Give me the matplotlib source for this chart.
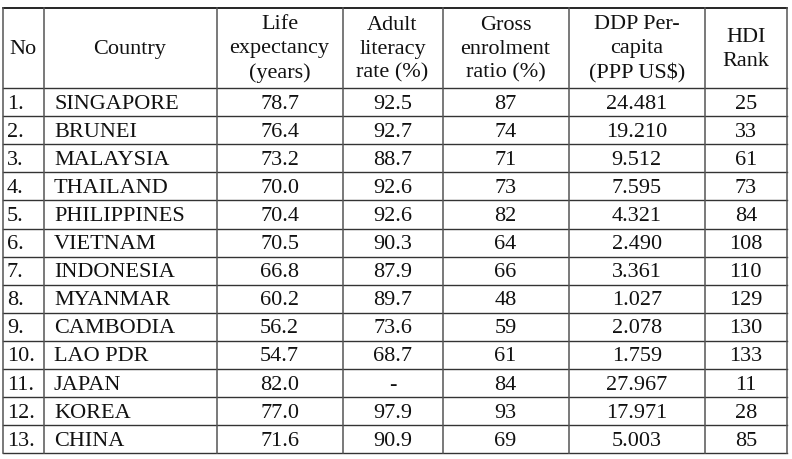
import matplotlib
matplotlib.use("Agg")
import matplotlib.pyplot as plt

headers = ["No", "Country", "Life\nexpectancy\n(years)", "Adult\nliteracy\nrate (%)",
           "Gross\nenrolment\nratio (%)", "DDP Per-\ncapita\n(PPP US$)", "HDI\nRank"]
numbers = ["1.", "2.", "3.", "4.", "5.", "6.", "7.", "8.", "9.", "10.", "11.", "12.", "13."]
countries = ["SINGAPORE", "BRUNEI", "MALAYSIA", "THAILAND", "PHILIPPINES", "VIETNAM",
             "INDONESIA", "MYANMAR", "CAMBODIA", "LAO PDR", "JAPAN", "KOREA", "CHINA"]
life_exp = ["78.7", "76.4", "73.2", "70.0", "70.4", "70.5", "66.8", "60.2", "56.2", "54.7",
            "82.0", "77.0", "71.6"]
literacy = ["92.5", "92.7", "88.7", "92.6", "92.6", "90.3", "87.9", "89.7", "73.6", "68.7",
            "-", "97.9", "90.9"]
enrolment = ["87", "74", "71", "73", "82", "64", "66", "48", "59", "61", "84", "93", "69"]
gdp = ["24.481", "19.210", "9.512", "7.595", "4.321", "2.490", "3.361", "1.027", "2.078",
       "1.759", "27.967", "17.971", "5.003"]
hdi_rank = ["25", "33", "61", "73", "84", "108", "110", "129", "130", "133", "11", "28", "85"]

W, H = 792, 460
fig = plt.figure(figsize=(W / 100, H / 100), dpi=100)
ax = fig.add_axes([0, 0, 1, 1])
ax.set_xlim(0, W)
ax.set_ylim(H, 0)
ax.axis("off")

font = dict(family="Liberation Serif", fontsize=16.0, color="#111111")

col_edges = [3, 43.5, 216.5, 342.5, 442.5, 568.5, 705, 786.5]
top = 8.5
header_bottom = 89
row_h = 28.1
n = len(countries)
bottom = header_bottom + n * row_h

lc = "#333333"
lw = 1.0
# horizontal lines
ax.plot([col_edges[0], col_edges[-1]], [top, top], color="#000000", lw=1.2)
ax.plot([col_edges[0], col_edges[-1]], [header_bottom, header_bottom], color=lc, lw=lw)
for i in range(1, n + 1):
    y = header_bottom + i * row_h
    ax.plot([col_edges[0], col_edges[-1]], [y, y], color=lc, lw=lw)
# vertical lines
for x in col_edges:
    ax.plot([x, x], [top, bottom], color="#555555", lw=1.1)

# header
hc = (top + header_bottom) / 2
for j, h in enumerate(headers):
    xc = (col_edges[j] + col_edges[j + 1]) / 2
    ax.text(xc, hc + 0.5, h, ha="center", va="center", linespacing=1.34, **font)

cols = [life_exp, literacy, enrolment, gdp, hdi_rank]
for i in range(n):
    yc = header_bottom + (i + 0.5) * row_h + 1.0
    ax.text(7, yc, numbers[i], ha="left", va="center", **font)
    ax.text(54, yc, countries[i], ha="left", va="center", **font)
    for k, col in enumerate(cols):
        j = k + 2
        xc = (col_edges[j] + col_edges[j + 1]) / 2
        ax.text(xc, yc, col[i], ha="center", va="center", **font)

fig.savefig("out.png", dpi=100, facecolor="white")
